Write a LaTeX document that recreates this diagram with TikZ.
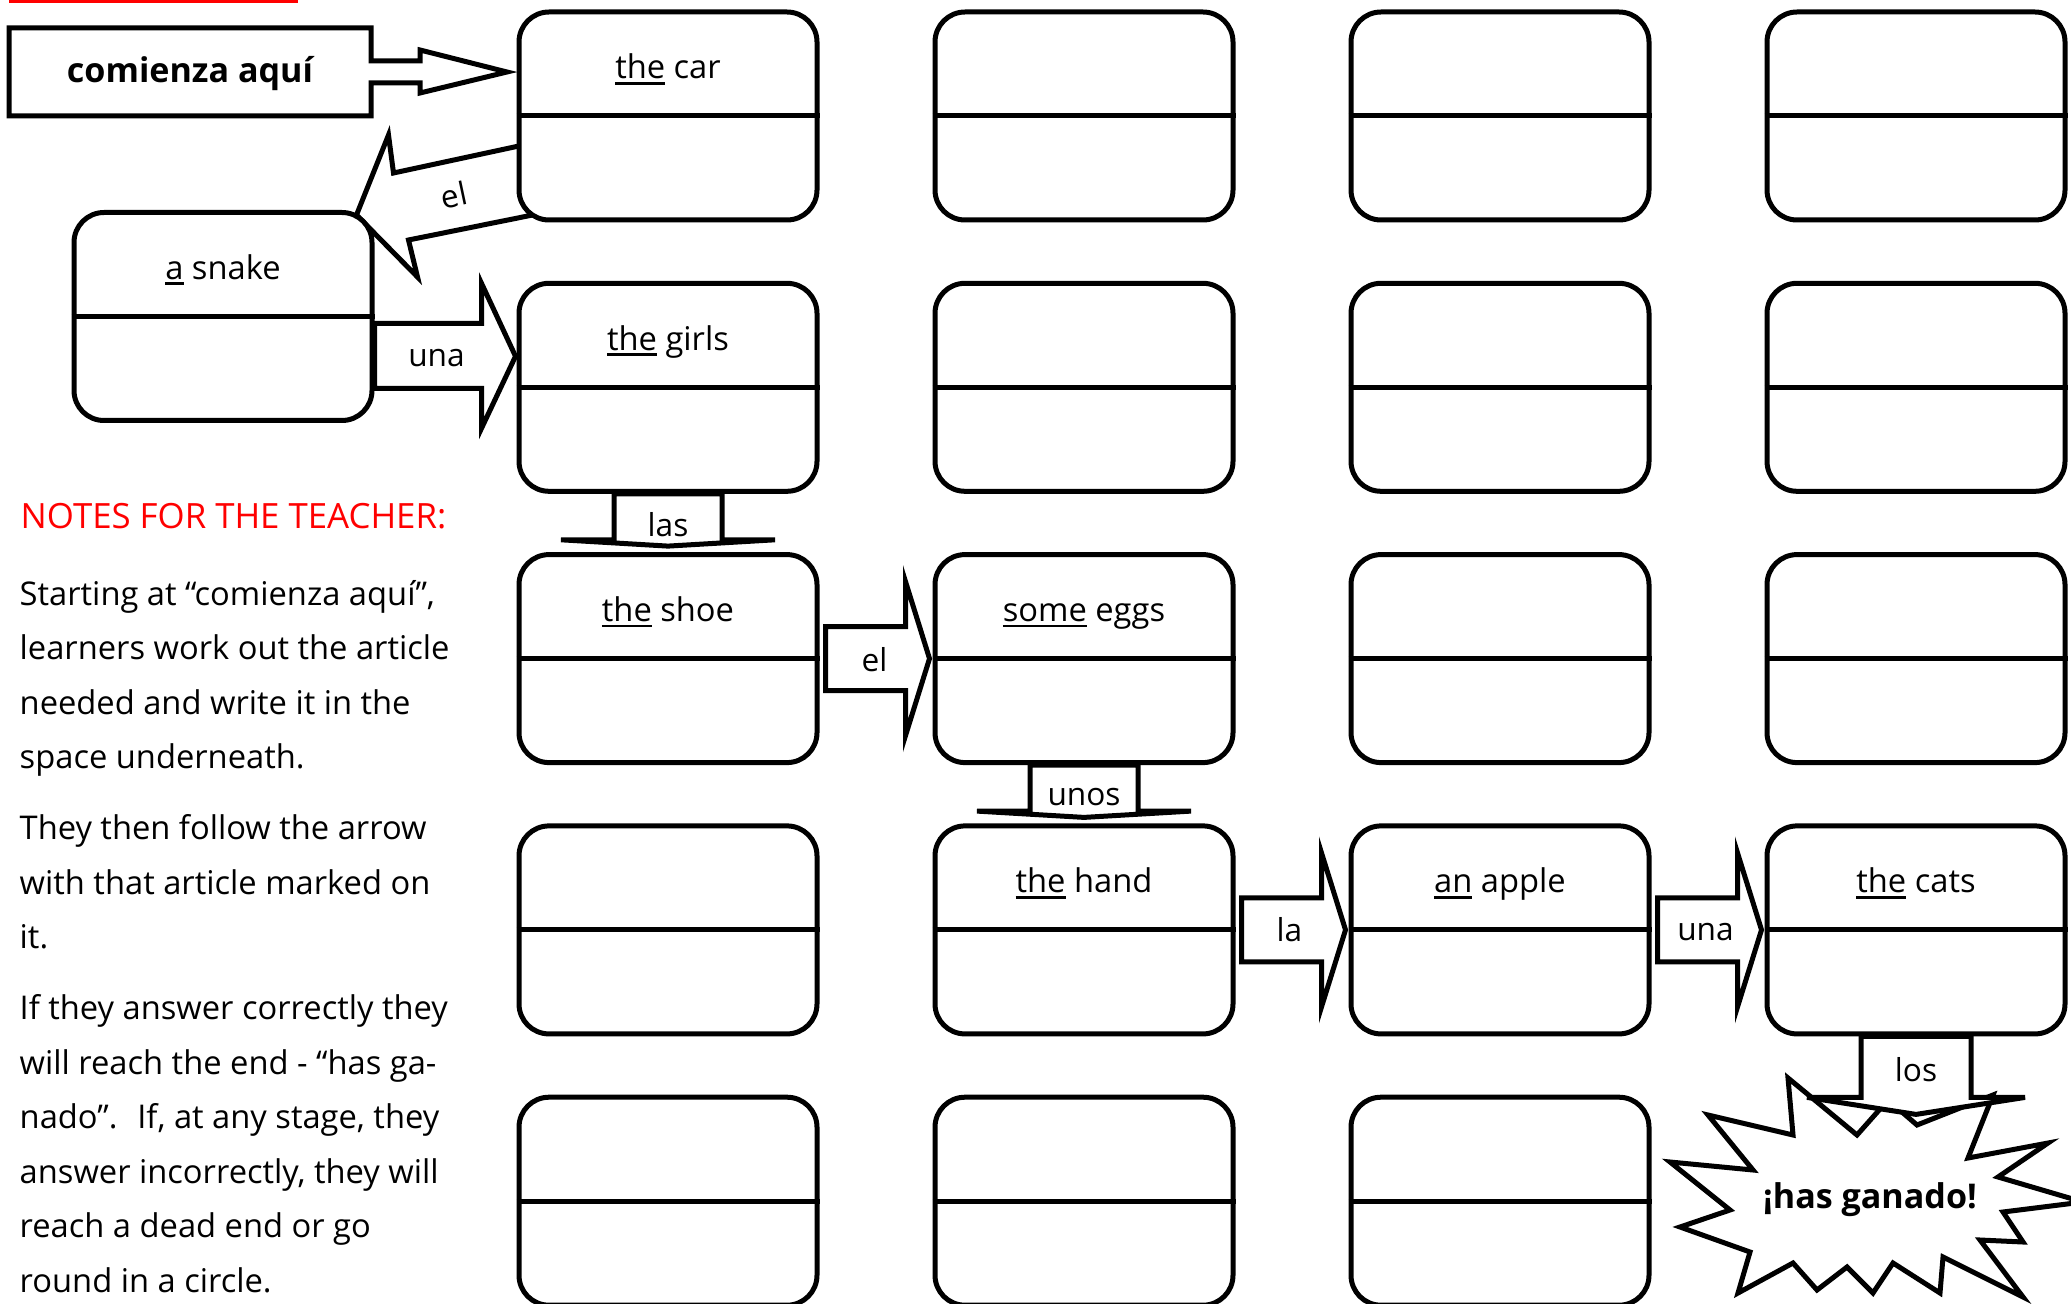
\documentclass[tikz,border=0pt]{standalone}
\usepackage{fontspec}
\setmainfont{Open Sans}
\usetikzlibrary{calc}
\definecolor{notered}{HTML}{FF0000}
\pgfdeclarelayer{back}
\pgfsetlayers{back,main}
\newcommand{\uword}[1]{\leavevmode\setbox0\hbox{#1}\rlap{\rule[-1.6pt]{\wd0}{0.75pt}}\box0\relax}

\tikzset{
  card/.style={draw, line width=0.5mm, rounded corners=3mm, fill=white,
               minimum width=29.8mm, minimum height=20.8mm, inner sep=0pt},
  blockarrow/.style={draw, line width=0.5mm, fill=white, line join=miter},
  word/.style={font=\fontsize{9.3}{11}\selectfont, anchor=base, inner sep=0pt},
  article/.style={font=\fontsize{9}{11}\selectfont, inner sep=0pt},
  notes/.style={font=\fontsize{9.3}{15.5}\selectfont, align=left,
                anchor=base west, inner sep=0pt},
  shout/.style={font=\fontsize{9.7}{11}\selectfont\bfseries, anchor=base,
                inner sep=0pt},
}

\begin{document}
\begin{tikzpicture}[x=0.1mm, y=-0.1mm]
  \useasboundingbox (0,0) rectangle (2071,1304);
  \fill[notered] (9,0) rectangle (298,3);

  % grid of cards, the last one is left for the star
  \foreach \r in {1,...,5}
    \foreach \c in {1,...,4} {
      \ifnum\r\c=54 \else
        \node[card] (box\r\c) at ({668+416*(\c-1)}, {116+271.3*(\r-1)}) {};
        \draw[line width=0.5mm] (box\r\c.west) -- (box\r\c.east);
      \fi
    }
  \node[card] (snake) at (223,316.5) {};
  \draw[line width=0.5mm] (snake.west) -- (snake.east);

  % words to translate
  \node[word] (car)    at ($(box11)+(0,-37)$) {\uword{the} car};
  \node[word] (asnake) at ($(snake)+(0,-37)$) {\uword{a} snake};
  \node[word] (girls)  at ($(box21)+(0,-37)$) {\uword{the} girls};
  \node[word] (shoe)   at ($(box31)+(0,-37)$) {\uword{the} shoe};
  \node[word] (eggs)   at ($(box32)+(0,-37)$) {\uword{some} eggs};
  \node[word] (hand)   at ($(box42)+(0,-37)$) {\uword{the} hand};
  \node[word] (apple)  at ($(box43)+(0,-37)$) {\uword{an} apple};
  \node[word] (cats)   at ($(box44)+(0,-37)$) {\uword{the} cats};

  % start
  \draw[blockarrow] (9,28) -- (371,28) -- (371,61) -- (420,61) -- (420,50)
    -- (507,72) -- (420,93) -- (420,83) -- (371,83) -- (371,116) -- (9,116) -- cycle;
  \node[shout] (start) at (190,83) {comienza aquí};

  \begin{pgfonlayer}{back}
    % star
    \draw[blockarrow] (1788,1078) -- (1857,1135) -- (1888,1100) -- (1917,1125)
      -- (1993,1095) -- (1968,1158) -- (2048,1143) -- (1998,1177) -- (2083,1202)
      -- (2003,1212) -- (2023,1242) -- (1980,1240) -- (2023,1297) -- (1943,1257)
      -- (1940,1293) -- (1893,1263) -- (1873,1293) -- (1847,1267) -- (1817,1290)
      -- (1793,1263) -- (1738,1293) -- (1750,1252) -- (1680,1227) -- (1730,1210)
      -- (1670,1162) -- (1753,1170) -- (1708,1115) -- (1793,1135) -- cycle;
    % car -> snake
    \draw[blockarrow] ($(box11.west)+(21,26)$) -- ($(box11.west)+(-123,57)$)
      -- ++(-5,-38) -- ($(box11.west)+(-160,99)$) -- ($(box11.west)+(-99,161)$)
      -- ++(-9,-37) -- ($(box11.west)+(41,94)$) -- cycle;
    % snake -> girls
    \draw[blockarrow] ($(box21.west)+(-142,-64)$) -- ++(107,0) -- ++(0,-40)
      -- ($(box21.west)+(-1,-31)$) -- ($(box21.west)+(-35,41)$) -- ++(0,-40)
      -- ++(-107,0) -- cycle;
    % girls -> shoe
    \draw[blockarrow] ($(box21.south)+(-54,0)$) -- ++(0,46) -- ++(-53,0)
      -- ($(box31.north)+(0,-6)$) -- ($(box21.south)+(107,46)$) -- ++(-53,0)
      -- ++(0,-46) -- cycle;
    % shoe -> eggs
    \draw[blockarrow] ($(box31.east)+(6,-32)$) -- ++(80,0) -- ++(0,-45)
      -- ($(box32.west)+(-3,0)$) -- ($(box31.east)+(86,77)$) -- ++(0,-45)
      -- ++(-80,0) -- cycle;
    % eggs -> hand
    \draw[blockarrow] ($(box32.south)+(-54,0)$) -- ++(0,46) -- ++(-53,0)
      -- ($(box42.north)+(0,-6)$) -- ($(box32.south)+(107,46)$) -- ++(-53,0)
      -- ++(0,-46) -- cycle;
    % hand -> apple
    \draw[blockarrow] ($(box42.east)+(6,-32)$) -- ++(80,0) -- ++(0,-45)
      -- ($(box43.west)+(-3,0)$) -- ($(box42.east)+(86,77)$) -- ++(0,-45)
      -- ++(-80,0) -- cycle;
    % apple -> cats
    \draw[blockarrow] ($(box43.east)+(6,-32)$) -- ++(80,0) -- ++(0,-45)
      -- ($(box44.west)+(-3,0)$) -- ($(box43.east)+(86,77)$) -- ++(0,-45)
      -- ++(-80,0) -- cycle;
    % cats -> star
    \draw[blockarrow] ($(box44.south)+(-55,0)$) -- ++(0,61) -- ++(-54,0)
      -- ($(box44.south)+(0,78)$) -- ($(box44.south)+(109,61)$) -- ++(-54,0)
      -- ++(0,-61) -- cycle;
  \end{pgfonlayer}

  % articles on the arrows
  \node[article, rotate=12] (elA) at (454,195) {el};
  \node[article] (unaA) at ($(box21.west)+(-80,-29)$) {una};
  \node[article] (las)  at ($(box21.south)+(0,31)$) {las};
  \node[article] (elB)  at ($(box31.east)+(55,1)$) {el};
  \node[article] (unos) at ($(box32.south)+(0,32)$) {unos};
  \node[article] (la)   at ($(box42.east)+(54,0)$) {la};
  \node[article] (unaB) at ($(box43.east)+(54,2)$) {una};
  \node[article] (los)  at ($(box44.south)+(0,33)$) {los};
  \node[shout] (win) at (1870,1208) {¡has ganado!};

  % notes (placed at the baseline of their last line)
  \node[notes, text=notered, font=\fontsize{9.9}{12}\selectfont] (notehead)
    at (20,528) {NOTES FOR THE TEACHER:};
  \node[notes] (para1) at (19,768.5)
    {Starting at “comienza aquí”,\\
     learners work out the article\\
     needed and write it in the\\
     space underneath.};
  \node[notes] (para2) at (19,948.5)
    {They then follow the arrow\\
     with that article marked on\\
     it.};
  \node[notes] (para3) at (19,1292)
    {If they answer correctly they\\
     will reach the end - “has ga-\\
     nado”. \ If, at any stage, they\\
     answer incorrectly, they will\\
     reach a dead end or go\\
     round in a circle.};
\end{tikzpicture}
\end{document}
